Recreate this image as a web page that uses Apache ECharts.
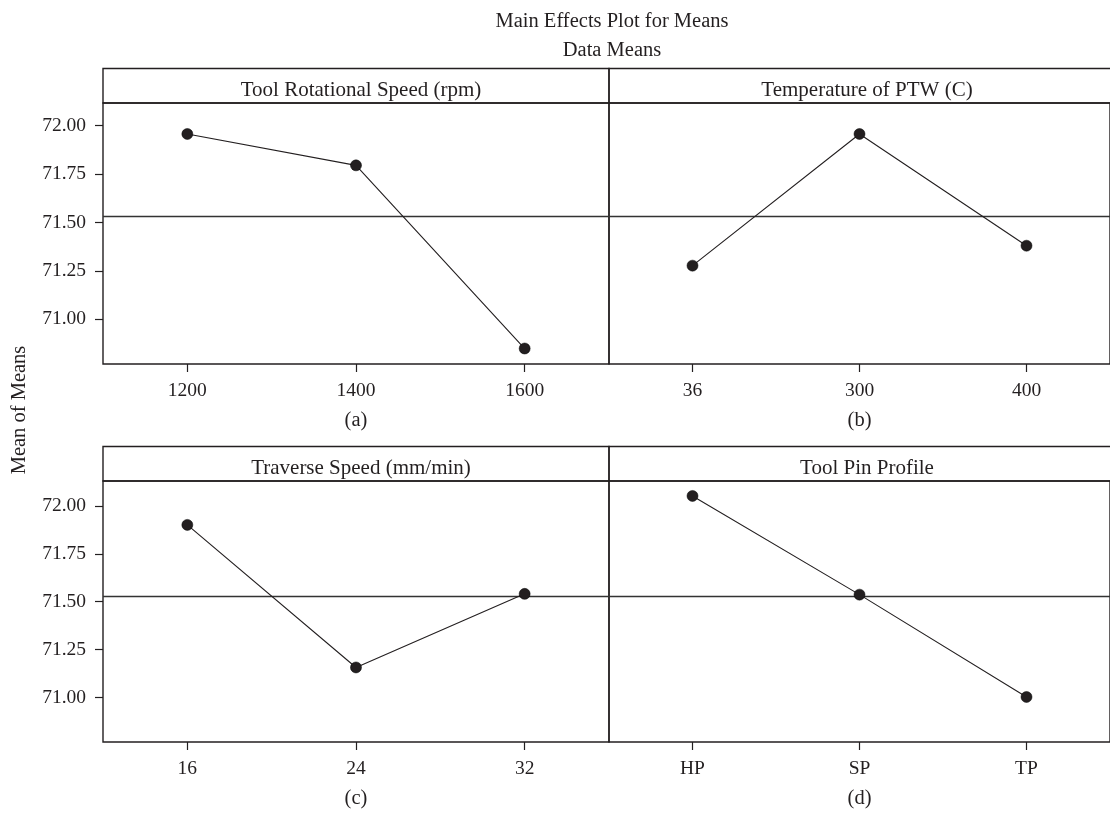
<!DOCTYPE html>
<html>
<head>
<meta charset="utf-8">
<script src="https://cdn.jsdelivr.net/npm/echarts@6/dist/echarts.min.js"></script>
<style>
html,body{margin:0;padding:0;background:#fff;}
#chart{width:1110px;height:814px;}
</style>
</head>
<body>
<div id="chart"></div>
<script>
// ---- data ----
const mainTitle = 'Main Effects Plot for Means';
const subTitle = 'Data Means';
const yAxisTitle = 'Mean of Means';
const panelTitles = ['Tool Rotational Speed (rpm)', 'Temperature of PTW (C)', 'Traverse Speed (mm/min)', 'Tool Pin Profile'];
const panelCaptions = ['(a)', '(b)', '(c)', '(d)'];
const speedLevels = ['1200', '1400', '1600'];
const speedMeans = [71.957, 71.795, 70.849];
const tempLevels = ['36', '300', '400'];
const tempMeans = [71.277, 71.957, 71.380];
const traverseLevels = ['16', '24', '32'];
const traverseMeans = [71.901, 71.157, 71.541];
const pinLevels = ['HP', 'SP', 'TP'];
const pinMeans = [72.052, 71.537, 71.003];
const grandMean = 71.53;
const yTicks = [71.00, 71.25, 71.50, 71.75, 72.00];

// ---- build ----
const INK = '#231f20';
const FONT = 'Liberation Serif';
const levels = [speedLevels, tempLevels, traverseLevels, pinLevels];
const means = [speedMeans, tempMeans, traverseMeans, pinMeans];

const L = [103, 609];
const W = 506;
const T = [103, 481];
const H = 261;
const HEAD_H = 34.5;
const yRange = [[70.769, 72.117], [70.768, 72.13]];

const grids = [], xAxes = [], yAxes = [], series = [], graphics = [], titles = [];
titles.push({text: mainTitle, left: 607, top: 6, textAlign: 'center',
  textStyle: {fontFamily: FONT, fontSize: 20.5, fontWeight: 'normal', color: INK}});
titles.push({text: subTitle, left: 607, top: 35, textAlign: 'center',
  textStyle: {fontFamily: FONT, fontSize: 20.5, fontWeight: 'normal', color: INK}});

for (let i = 0; i < 4; i++) {
  const row = Math.floor(i / 2), col = i % 2;
  grids.push({left: L[col], top: T[row], width: W, height: H, show: true,
    borderColor: INK, borderWidth: 1.4, backgroundColor: 'transparent', containLabel: false});
  xAxes.push({type: 'category', gridIndex: i, data: levels[i], boundaryGap: true,
    axisLine: {show: false},
    axisTick: {show: true, alignWithLabel: true, length: 8, inside: false, lineStyle: {color: INK, width: 1.2}},
    axisLabel: {margin: 17, fontFamily: FONT, fontSize: 19.5, color: INK},
    splitLine: {show: false},
    name: panelCaptions[i], nameLocation: 'middle', nameGap: 46,
    nameTextStyle: {fontFamily: FONT, fontSize: 20.5, color: INK}});
  const yA = {type: 'value', gridIndex: i, min: yRange[row][0], max: yRange[row][1],
    splitLine: {show: false}, axisLine: {show: false}};
  if (col === 0) {
    yA.axisTick = {show: true, length: 8, customValues: yTicks, lineStyle: {color: INK, width: 1.2}};
    yA.axisLabel = {show: true, margin: 17, customValues: yTicks, fontFamily: FONT, fontSize: 19.5, color: INK,
      formatter: v => Number(v).toFixed(2)};
  } else {
    yA.axisTick = {show: false};
    yA.axisLabel = {show: false};
  }
  yAxes.push(yA);
  series.push({type: 'line', xAxisIndex: i, yAxisIndex: i, data: means[i],
    symbol: 'circle', symbolSize: 11,
    lineStyle: {color: INK, width: 1.1},
    itemStyle: {color: INK, borderColor: '#000', borderWidth: 0.5},
    emphasis: {disabled: true}, z: 5,
    markLine: {silent: true, symbol: ['none', 'none'], label: {show: false},
      lineStyle: {color: '#333', width: 1.3, type: 'solid'},
      data: [{yAxis: grandMean}]}
  });
  // header box
  graphics.push({type: 'rect', shape: {x: L[col], y: T[row] - HEAD_H, width: W, height: HEAD_H},
    style: {fill: 'none', stroke: INK, lineWidth: 1.4}, silent: true});
  titles.push({text: panelTitles[i], left: L[col] + W / 2, top: T[row] - HEAD_H + 6, textAlign: 'center',
    textStyle: {fontFamily: FONT, fontSize: 21, fontWeight: 'normal', color: INK}});
}
graphics.push({type: 'text', x: 20, y: 410, rotation: Math.PI / 2,
  style: {text: yAxisTitle, textAlign: 'center', textVerticalAlign: 'middle',
    font: '20.5px "Liberation Serif"', fill: INK}, silent: true});

const chart = echarts.init(document.getElementById('chart'), null, {renderer: 'canvas'});
chart.setOption({
  backgroundColor: '#fff',
  animation: false,
  title: titles,
  grid: grids,
  xAxis: xAxes,
  yAxis: yAxes,
  series: series,
  graphic: graphics
});
</script>
</body>
</html>
